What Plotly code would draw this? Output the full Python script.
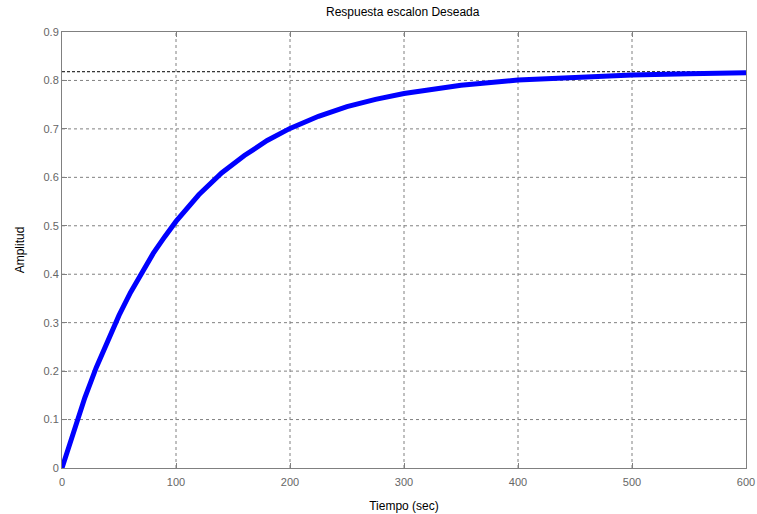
import plotly.graph_objects as go

t = [0, 10, 20, 30, 40, 50, 60, 70, 80, 90, 100, 120, 140, 160, 180, 200,
     225, 250, 275, 300, 350, 400, 450, 500, 550, 600]
amp = [0.0, 0.076, 0.145, 0.207, 0.264, 0.315, 0.362, 0.404, 0.443, 0.477, 0.509,
       0.564, 0.609, 0.645, 0.676, 0.701, 0.726, 0.746, 0.761, 0.773, 0.790,
       0.801, 0.807, 0.811, 0.814, 0.816]
steady = 0.818
x_ticks = [0, 100, 200, 300, 400, 500, 600]
y_ticks = [0, 0.1, 0.2, 0.3, 0.4, 0.5, 0.6, 0.7, 0.8, 0.9]
y_labels = ["0", "0.1", "0.2", "0.3", "0.4", "0.5", "0.6", "0.7", "0.8", "0.9"]

fig = go.Figure()
for xv in x_ticks[1:-1]:
    fig.add_shape(type="line", x0=xv, x1=xv, y0=0, y1=0.9, xref="x", yref="y",
                  line=dict(color="#808080", width=1, dash="3px,3px"), layer="below")
for yv in y_ticks[1:-1]:
    fig.add_shape(type="line", x0=0, x1=600, y0=yv, y1=yv, xref="x", yref="y",
                  line=dict(color="#808080", width=1, dash="3px,3px"), layer="below")
fig.add_shape(type="line", x0=0, x1=600, y0=steady, y1=steady, xref="x", yref="y",
              line=dict(color="#000000", width=1, dash="3px,2px"), layer="below")

fig.add_trace(go.Scatter(x=t, y=amp, mode="lines",
                         line=dict(color="#0000ff", width=5), showlegend=False))

axis_common = dict(showgrid=False, zeroline=False, showline=True, mirror="ticks",
                   linecolor="#808080", linewidth=1, ticks="inside", ticklen=5,
                   tickcolor="#808080", automargin=False,
                   tickfont=dict(family="Liberation Sans, Arial", size=11, color="#666666"))
fig.update_xaxes(range=[0, 600], tickvals=x_ticks, ticklabelstandoff=4,
                 title=dict(text="Tiempo (sec)", font=dict(family="Liberation Sans, Arial", size=12, color="black"), standoff=14),
                 **axis_common)
fig.update_yaxes(range=[0, 0.9], tickvals=y_ticks, ticktext=y_labels,
                 title=dict(text="Amplitud", font=dict(family="Liberation Sans, Arial", size=12, color="black"), standoff=16),
                 **axis_common)
fig.update_layout(
    width=757, height=514,
    margin=dict(l=62, r=11, t=32, b=46),
    paper_bgcolor="white", plot_bgcolor="white",
    title=dict(text="Respuesta escalon Deseada", x=0.532, xanchor="center", y=0.985, yanchor="top",
               font=dict(family="Liberation Sans, Arial", size=12, color="black")),
)
fig.write_html("out.html")
